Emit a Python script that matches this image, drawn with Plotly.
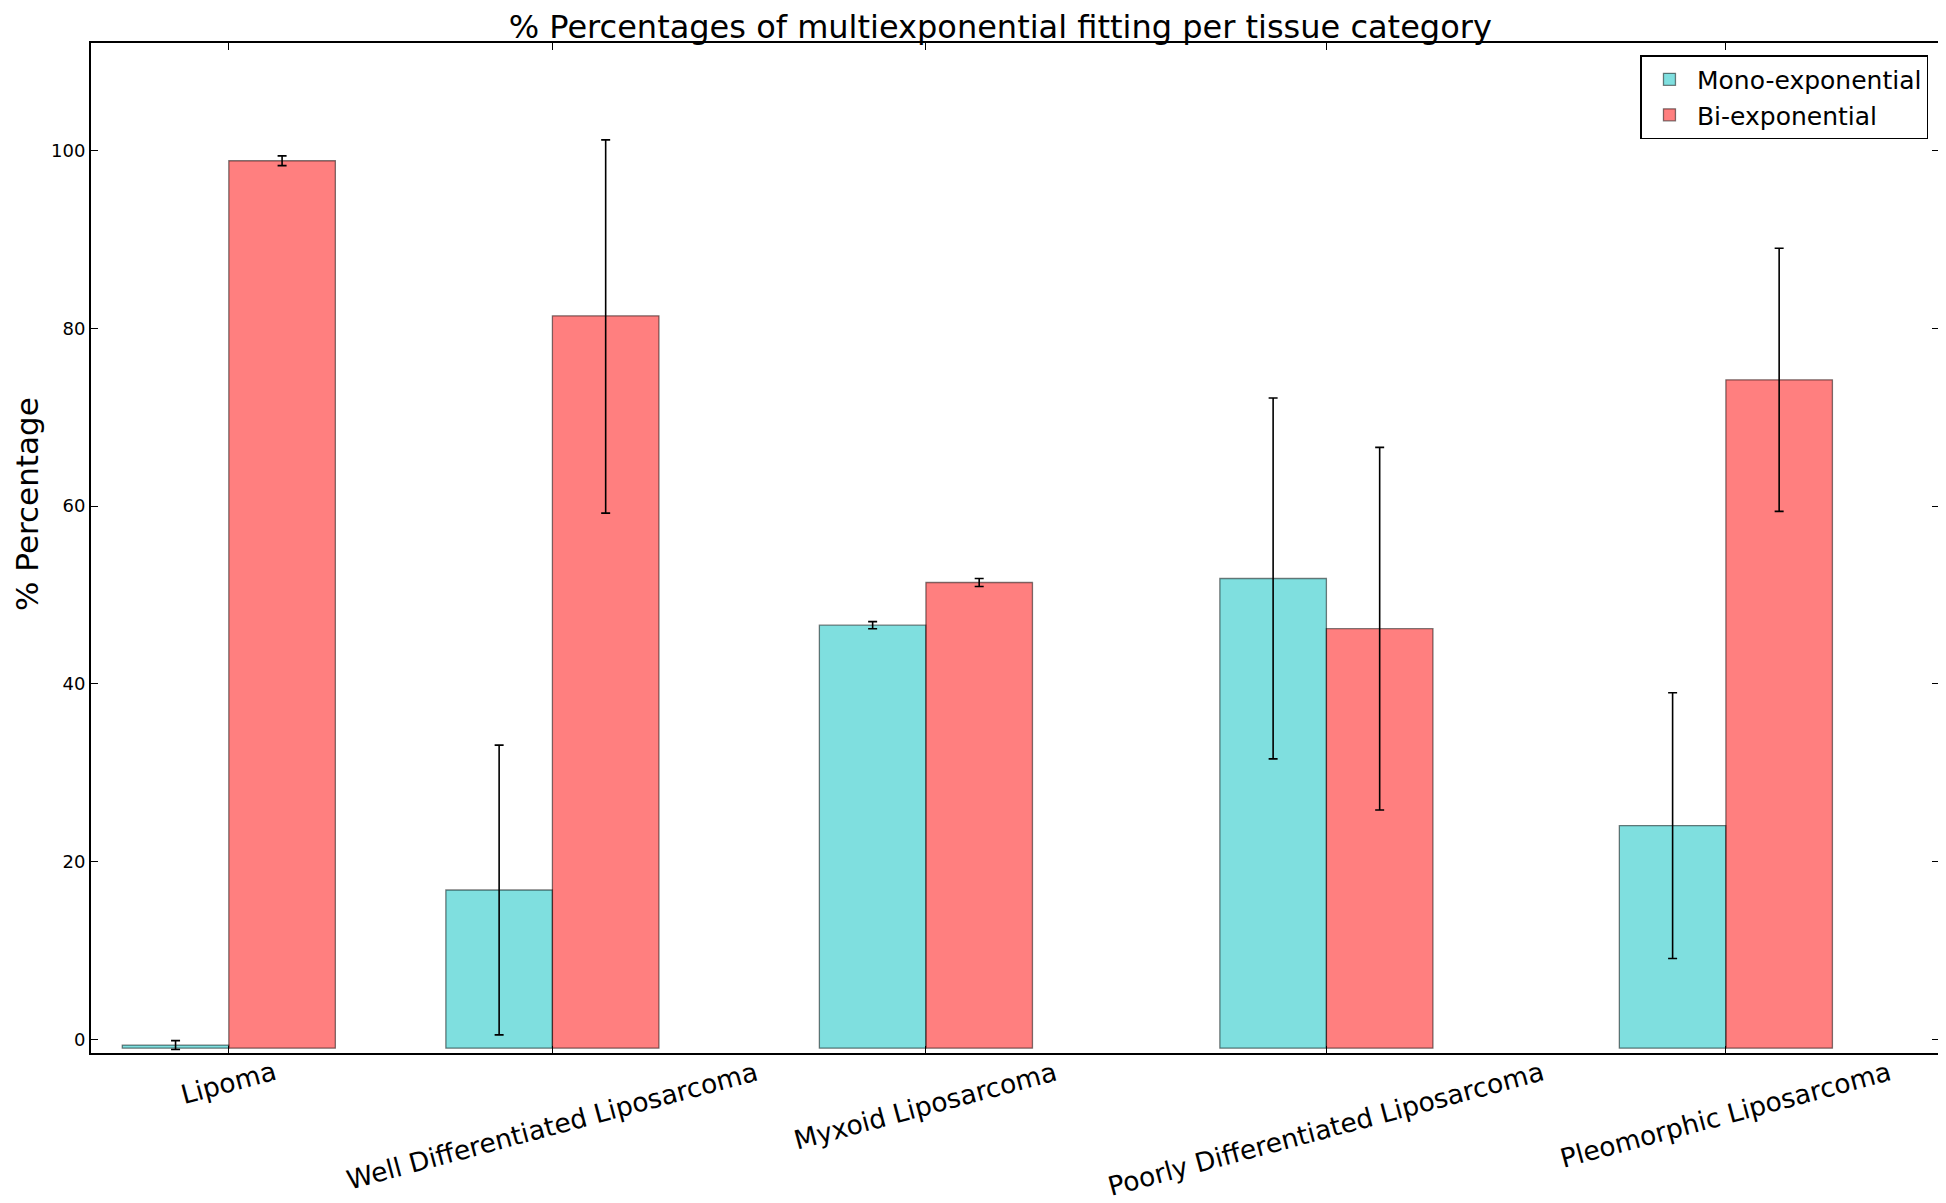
import plotly.graph_objects as go

categories = ["Lipoma", "Well Differentiated Liposarcoma", "Myxoid Liposarcoma",
              "Poorly Differentiated Liposarcoma", "Pleomorphic Liposarcoma"]
x_pos = [0.0, 0.81, 1.745, 2.7475, 3.7475]
mono_vals = [-0.65, 16.8, 46.6, 51.85, 24.05]
mono_err = [0.5, 16.3, 0.4, 20.3, 14.95]
bi_vals = [98.85, 81.4, 51.4, 46.2, 74.2]
bi_err_up = [0.55, 19.8, 0.45, 20.4, 14.8]
bi_err_down = [0.55, 22.2, 0.45, 20.4, 14.8]
y_ticks = [0, 20, 40, 60, 80, 100]

BAR_BASE = -1.0
BAR_W = 0.2667
FONT = "DejaVu Sans"

fig = go.Figure()
fig.add_trace(go.Bar(
    name="Mono-exponential", x=x_pos, y=[v - BAR_BASE for v in mono_vals], base=BAR_BASE,
    width=BAR_W, offset=-BAR_W,
    marker=dict(color="rgba(0,191,191,0.5)", line=dict(color="rgba(0,0,0,0.5)", width=1.3)),
    error_y=dict(type="data", array=mono_err, color="black", thickness=1.6, width=4.5),
))
fig.add_trace(go.Bar(
    name="Bi-exponential", x=x_pos, y=[v - BAR_BASE for v in bi_vals], base=BAR_BASE,
    width=BAR_W, offset=0,
    marker=dict(color="rgba(255,0,0,0.5)", line=dict(color="rgba(0,0,0,0.5)", width=1.3)),
    error_y=dict(type="data", symmetric=False, array=bi_err_up, arrayminus=bi_err_down,
                 color="black", thickness=1.6, width=4.5),
))

for xp, cat in zip(x_pos, categories):
    fig.add_annotation(x=xp, y=0, xref="x", yref="paper", text=cat, showarrow=False,
                       textangle=-15, xanchor="center", yanchor="top", yshift=0,
                       font=dict(family=FONT, size=26.5, color="black"))

fig.add_annotation(x=0, y=0.5436, xref="paper", yref="paper", text="% Percentage",
                   showarrow=False, textangle=-90, xanchor="right", yanchor="middle",
                   xshift=-44, font=dict(family=FONT, size=31, color="black"))

fig.update_layout(
    width=1938, height=1195,
    margin=dict(l=83, r=4.5, t=35, b=150),
    barmode="overlay",
    plot_bgcolor="white", paper_bgcolor="white",
    font=dict(family=FONT, color="black"),
    title=dict(text="% Percentages of multiexponential fitting per tissue category",
               x=0.512, xanchor="center", y=1 - 8 / 1195, yanchor="top", yref="container",
               pad=dict(t=0, b=0, l=0, r=0),
               font=dict(family=FONT, size=32, color="black")),
    legend=dict(x=0.9943, y=0.988, xanchor="right", yanchor="top",
                bordercolor="black", borderwidth=1.5, bgcolor="white",
                font=dict(family=FONT, size=25, color="black"),
                itemwidth=45, tracegroupgap=0),
    showlegend=True,
)
fig.update_xaxes(range=[-0.345, 4.281], tickvals=x_pos, showticklabels=False,
                 ticks="inside", ticklen=7, tickwidth=1, tickcolor="black",
                 showline=True, linecolor="black", linewidth=2, mirror="ticks",
                 showgrid=False, zeroline=False)
fig.update_yaxes(range=[-1.54, 112.1], tickvals=y_ticks,
                 ticks="inside", ticklen=7, tickwidth=1, tickcolor="black",
                 showline=True, linecolor="black", linewidth=2, mirror="ticks",
                 showgrid=False, zeroline=False,
                 tickfont=dict(family=FONT, size=18, color="black"))

fig.write_html("out.html")
